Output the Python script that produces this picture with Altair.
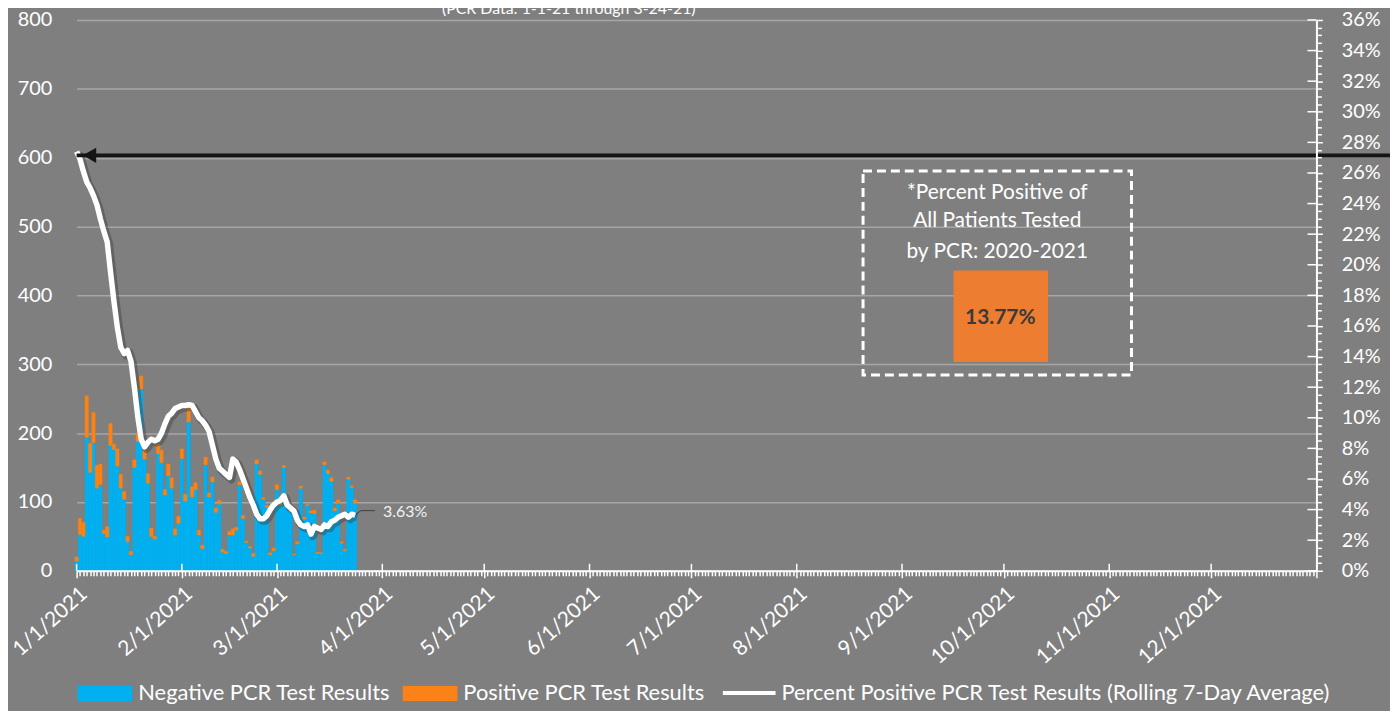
import altair as alt
import pandas as pd

# ---------------- data ----------------
START = "2021-01-01"
negative = [14, 53, 50, 194, 143, 186, 120, 125, 54, 49,
            182, 176, 152, 120, 104, 42, 23, 150, 188, 264,
            162, 127, 50, 46, 170, 157, 110, 138, 120, 52,
            69, 163, 101, 216, 107, 118, 52, 32, 154, 107,
            129, 85, 97, 27, 25, 52, 52, 59, 125, 76,
            41, 33, 21, 155, 140, 104, 92, 23, 29, 118,
            95, 150, 93, 86, 23, 39, 120, 75, 95, 84,
            83, 25, 25, 154, 141, 130, 87, 98, 40, 29,
            133, 121, 98]
positive = [6, 23, 20, 60, 42, 44, 33, 30, 5, 15,
            32, 8, 25, 20, 11, 8, 5, 11, 12, 19,
            13, 14, 12, 4, 13, 18, 8, 17, 15, 9,
            10, 14, 10, 20, 15, 10, 7, 5, 11, 6,
            7, 6, 5, 4, 3, 5, 9, 4, 4, 4,
            2, 2, 4, 6, 5, 2, 3, 3, 4, 7,
            5, 3, 4, 4, 1, 3, 3, 3, 1, 3,
            5, 2, 1, 4, 5, 5, 4, 5, 2, 2,
            3, 2, 5]
pct_rolling = [27.4, 26.9, 26.1, 25.4, 25.0, 24.5, 23.9, 23.0, 22.2, 21.5,
               19.5, 17.6, 15.9, 14.6, 14.2, 14.4, 13.7, 12.0, 10.1, 8.6,
               8.1, 8.4, 8.6, 8.5, 8.6, 9.0, 9.6, 10.1, 10.3, 10.6,
               10.7, 10.8, 10.8, 10.85, 10.8, 10.4, 10.0, 9.8, 9.5, 9.1,
               8.2, 7.3, 6.7, 6.5, 6.3, 6.1, 7.3, 7.1, 6.6, 6.0,
               5.4, 4.8, 4.3, 3.7, 3.4, 3.4, 3.6, 4.0, 4.3, 4.5,
               4.6, 4.9, 4.3, 4.1, 3.9, 3.3, 3.0, 2.9, 3.0, 2.4,
               2.9, 2.8, 2.7, 3.0, 2.9, 3.2, 3.3, 3.5, 3.6, 3.7,
               3.5, 3.7, 3.63]
overall_pct_label = "13.77%"
last_label = "3.63%"
arrow_pct = 27.15
title_text = "(PCR Data: 1-1-21 through 3-24-21)"
box_lines = ["*Percent Positive of", "All Patients Tested", "by PCR: 2020-2021"]
legend_labels = ["Negative PCR Test Results", "Positive PCR Test Results",
                 "Percent Positive PCR Test Results (Rolling 7-Day Average)"]

# ---------------- styles ----------------
BLUE = "#00b0f0"
ORANGE = "#fb8216"
BOX_ORANGE = "#ed7d31"
BG = "#7f7f7f"
GRID = "#a6a6a6"
FONT = "Lato"
W, H = 1247, 554


def iso(ts):
    return ts.strftime("%Y-%m-%dT%H:%M:%SZ")


dates = pd.date_range(START, periods=len(negative), freq="D")
bars = pd.DataFrame({
    "date": [iso(d) for d in dates],
    "x0": [iso(d - pd.Timedelta(hours=12)) for d in dates],
    "x1": [iso(d + pd.Timedelta(hours=12)) for d in dates],
    "neg": negative,
    "total": [n + p for n, p in zip(negative, positive)],
    "pct": [v / 100 for v in pct_rolling],
})
first = bars.iloc[[0]].assign(pct=arrow_pct / 100)
last = bars.iloc[[-1]].assign(lab=last_label)

day_ticks = [int(t.timestamp() * 1000) for t in
             pd.date_range("2021-01-01", "2022-01-01", freq="D", tz="UTC")]
months = pd.DataFrame({"m": [iso(t) for t in pd.date_range("2021-01-01", "2021-12-01", freq="MS")]})
pct_ticks = [round(i * 0.005, 4) for i in range(73)]
pct_major = pd.DataFrame({"v": [round(i * 0.02, 4) for i in range(19)]})

xscale = alt.Scale(type="utc", domain=[day_ticks[0], day_ticks[-1]])
xaxis = alt.Axis(
    values=day_ticks,
    labelExpr="utcdate(datum.value) == 1 && utcyear(datum.value) == 2021 ? utcFormat(datum.value, '%-m/%-d/%Y') : ''",
    labelAngle=-42, labelAlign="right", labelBaseline="top", labelPadding=5,
    labelFontSize=21, labelColor="white", labelFont=FONT, labelOverlap=False,
    labelFlush=False, labelBound=False,
    tickColor="white", tickWidth=1.5,
    tickSize={"condition": {"test": "utcdate(datum.value) == 1", "value": 7}, "value": 5},
    domainColor="white", domainWidth=2, grid=False, title=None, zindex=1,
)
cscale = alt.Scale(domain=[0, 800], nice=False)
caxis = alt.Axis(values=list(range(0, 801, 100)), labelFontSize=20, labelColor="white",
                 labelFont=FONT, ticks=False, domain=False, grid=True, gridColor=GRID,
                 gridWidth=1.5, labelPadding=25, title=None)
pscale = alt.Scale(domain=[0, 0.36], nice=False)
paxis = alt.Axis(orient="right", values=pct_ticks,
                 labelExpr="round(datum.value*200) % 4 == 0 ? format(datum.value, '.0%') : ''",
                 labelFontSize=20, labelColor="white", labelFont=FONT, labelOverlap=False,
                 labelBound=False, labelFlush=False,
                 tickColor="white", tickWidth=1.5,
                 tickSize={"condition": {"test": "round(datum.value*200) % 4 == 0", "value": 6}, "value": 5},
                 domainColor="white", domainWidth=2, grid=False, labelPadding=19,
                 title=None, zindex=1)


def X(f):
    return alt.X(f, type="temporal", scale=xscale, axis=xaxis)


def YC(f):
    return alt.Y(f, type="quantitative", scale=cscale, axis=caxis)


def YP(f):
    return alt.Y(f, type="quantitative", scale=pscale, axis=paxis)


# ---------------- count (left axis) layers ----------------
base = alt.Chart(bars)
shadow = base.mark_bar(color="#606060", xOffset=3).encode(
    x=X("x0"), x2="x1:T", y=YC("total"), y2=alt.datum(0))
neg_bar = base.mark_bar(color=BLUE, stroke=BLUE, strokeWidth=0.5).encode(
    x=X("x0"), x2="x1:T", y=YC("neg"), y2=alt.datum(0))
pos_bar = base.mark_bar(color=ORANGE, stroke=ORANGE, strokeWidth=0.5).encode(
    x=X("x0"), x2="x1:T", y=YC("total"), y2="neg:Q")
month_in = alt.Chart(months).mark_rule(color="white", strokeWidth=1.5).encode(
    x=X("m"), y=alt.value(H), y2=alt.value(H - 7))
count_group = alt.layer(shadow, neg_bar, pos_bar, month_in)

# ---------------- percent (right axis) layers ----------------
line_shadow = base.mark_line(color="#3a3a3a", strokeWidth=8, opacity=0.4, xOffset=2, yOffset=2,
                             strokeJoin="round").encode(x=X("date"), y=YP("pct"))
line = base.mark_line(color="white", strokeWidth=5.5, strokeJoin="round").encode(x=X("date"), y=YP("pct"))
right_in = alt.Chart(pct_major).mark_rule(color="white", strokeWidth=1.5).encode(
    y=YP("v"), x=alt.value(W - 9), x2=alt.value(W))
arrow = alt.Chart(first).mark_rule(color="#151515", strokeWidth=4).encode(
    x=X("date"), x2=alt.value(W + 90), y=YP("pct"))
arrow_head = alt.Chart(first).mark_point(shape="triangle-left", size=240, filled=True, opacity=1,
                                         color="#151515", xOffset=13).encode(x=X("date"), y=YP("pct"))
last_text = alt.Chart(last).mark_text(align="left", baseline="middle", dx=28, dy=-3, fontSize=16,
                                      color="#f2f2f2", font=FONT).encode(
    x=X("date"), y=YP("pct"), text="lab:N")
pct_group = alt.layer(line_shadow, line, right_in, arrow, arrow_head, last_text)

# ---------------- annotations ----------------
ann = alt.Chart(pd.DataFrame({"k": [0]}))
leader1 = ann.mark_rule(color="#404040", strokeWidth=1).encode(
    x=alt.value(281), x2=alt.value(286), y=alt.value(497), y2=alt.value(493.5))
leader2 = ann.mark_rule(color="#404040", strokeWidth=1).encode(
    x=alt.value(286), x2=alt.value(300), y=alt.value(493.5))
title = ann.mark_text(text=title_text, fontSize=16, color="white", font=FONT, align="center",
                      baseline="alphabetic").encode(x=alt.value(495), y=alt.value(-6))
box = ann.mark_rect(fillOpacity=0, stroke="white", strokeWidth=3, strokeDash=[9, 5]).encode(
    x=alt.value(791), x2=alt.value(1061), y=alt.value(152), y2=alt.value(357))
box_texts = [ann.mark_text(text=t, fontSize=21, color="white", font=FONT, align="center",
                           baseline="middle").encode(x=alt.value(926), y=alt.value(yy))
             for t, yy in zip(box_lines, [174, 202, 233])]
obox = ann.mark_rect(color=BOX_ORANGE).encode(
    x=alt.value(882), x2=alt.value(977), y=alt.value(252), y2=alt.value(344))
otext = ann.mark_text(text=overall_pct_label, fontSize=21, fontWeight="bold", color="#3a3a3a",
                      font=FONT, align="center", baseline="middle").encode(
    x=alt.value(929), y=alt.value(300))

LY = 677
leg_blue = ann.mark_rect(color=BLUE).encode(x=alt.value(1), x2=alt.value(56), y=alt.value(LY - 7), y2=alt.value(LY + 8))
leg_orange = ann.mark_rect(color=ORANGE).encode(x=alt.value(328), x2=alt.value(383), y=alt.value(LY - 7), y2=alt.value(LY + 8))
leg_line = ann.mark_rule(color="white", strokeWidth=4).encode(x=alt.value(650), x2=alt.value(703), y=alt.value(LY))
leg_texts = [ann.mark_text(text=t, fontSize=22, color="white", font=FONT, align="left",
                           baseline="middle").encode(x=alt.value(xx), y=alt.value(LY))
             for t, xx in zip(legend_labels, [62, 389, 709])]

chart = alt.layer(
    count_group, pct_group, leader1, leader2, title, box, *box_texts, obox, otext,
    leg_blue, leg_orange, leg_line, *leg_texts,
).resolve_scale(y="independent").properties(
    width=W, height=H, background=BG,
    padding={"left": 69, "top": 10, "right": 74, "bottom": 139},
    autosize=alt.AutoSizeParams(type="none"),
).configure_view(stroke=None)

chart.save("out.html", embed_options={"renderer": "svg", "actions": False})
